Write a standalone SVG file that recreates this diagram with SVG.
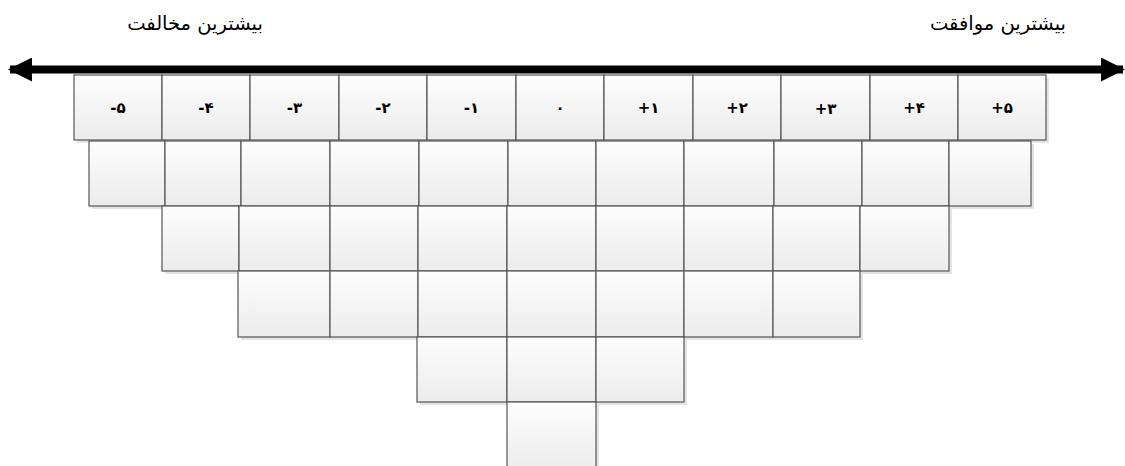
<svg xmlns="http://www.w3.org/2000/svg" width="1125" height="466" viewBox="0 0 1125 466">
<defs>
<linearGradient id="g" x1="0" y1="0" x2="0" y2="1">
<stop offset="0" stop-color="#fdfdfd"/>
<stop offset="1" stop-color="#ececec"/>
</linearGradient>
<marker id="ah" viewBox="0 0 24 24" refX="22" refY="12" markerWidth="24" markerHeight="24" markerUnits="userSpaceOnUse" orient="auto-start-reverse">
<path d="M0,0 L24,12 L0,24 Z" fill="#000"/>
</marker>
<style>
.c{fill:url(#g);stroke:#555;stroke-width:1.2}
.s{fill:#e4e4e4}
.t{font-family:"DejaVu Sans","Noto Sans",sans-serif;font-size:15px;font-weight:bold;fill:#000;text-anchor:middle}
.h{font-family:"DejaVu Sans","Noto Sans",sans-serif;font-size:19.5px;fill:#000;text-anchor:middle}
</style>
</defs>
<rect width="1125" height="466" fill="#fff"/>
<g id="heading-left"><text class="h" x="195" y="30">بیشترین مخالفت</text></g>
<g id="heading-right"><text class="h" x="998" y="30">بیشترین موافقت</text></g>
<g id="connectors">
<line x1="10" y1="69.5" x2="1123" y2="69.5" stroke="#000" stroke-width="8" marker-start="url(#ah)" marker-end="url(#ah)"/>
</g>
<g id="shadows">
<rect class="s" x="77" y="78" width="972" height="65"/>
<rect class="s" x="92" y="144" width="942" height="65"/>
<rect class="s" x="165" y="209" width="787" height="65"/>
<rect class="s" x="241" y="274" width="622" height="66"/>
<rect class="s" x="420" y="340" width="267" height="65"/>
<rect class="s" x="510" y="405" width="89" height="65"/>
</g>
<g id="row-header">
<g id="h-5"><rect class="c" x="74" y="75" width="88" height="65"/><text class="t" x="118" y="113">-۵</text></g>
<g id="h-4"><rect class="c" x="162" y="75" width="88" height="65"/><text class="t" x="206" y="113">-۴</text></g>
<g id="h-3"><rect class="c" x="250" y="75" width="89" height="65"/><text class="t" x="294.5" y="113">-۳</text></g>
<g id="h-2"><rect class="c" x="339" y="75" width="88" height="65"/><text class="t" x="383" y="113">-۲</text></g>
<g id="h-1"><rect class="c" x="427" y="75" width="89" height="65"/><text class="t" x="471.5" y="113">-۱</text></g>
<g id="h0"><rect class="c" x="516" y="75" width="88" height="65"/><text class="t" x="560" y="113">۰</text></g>
<g id="h1"><rect class="c" x="604" y="75" width="89" height="65"/><text class="t" x="648.5" y="113">+۱</text></g>
<g id="h2"><rect class="c" x="693" y="75" width="88" height="65"/><text class="t" x="737" y="113">+۲</text></g>
<g id="h3"><rect class="c" x="781" y="75" width="89" height="65"/><text class="t" x="825.5" y="114">+۳</text></g>
<g id="h4"><rect class="c" x="870" y="75" width="88" height="65"/><text class="t" x="914" y="113">+۴</text></g>
<g id="h5"><rect class="c" x="958" y="75" width="88" height="65"/><text class="t" x="1002" y="113">+۵</text></g>
</g>
<g id="row2">
<rect id="r2c1" class="c" x="89" y="141" width="76" height="65"/>
<rect id="r2c2" class="c" x="165" y="141" width="76" height="65"/>
<rect id="r2c3" class="c" x="241" y="141" width="89" height="65"/>
<rect id="r2c4" class="c" x="330" y="141" width="89" height="65"/>
<rect id="r2c5" class="c" x="419" y="141" width="89" height="65"/>
<rect id="r2c6" class="c" x="508" y="141" width="88" height="65"/>
<rect id="r2c7" class="c" x="596" y="141" width="88" height="65"/>
<rect id="r2c8" class="c" x="684" y="141" width="90" height="65"/>
<rect id="r2c9" class="c" x="774" y="141" width="88" height="65"/>
<rect id="r2c10" class="c" x="862" y="141" width="87" height="65"/>
<rect id="r2c11" class="c" x="949" y="141" width="82" height="65"/>
</g>
<g id="row3">
<rect id="r3c1" class="c" x="162" y="206" width="77" height="65"/>
<rect id="r3c2" class="c" x="239" y="206" width="91" height="65"/>
<rect id="r3c3" class="c" x="330" y="206" width="88" height="65"/>
<rect id="r3c4" class="c" x="418" y="206" width="89" height="65"/>
<rect id="r3c5" class="c" x="507" y="206" width="89" height="65"/>
<rect id="r3c6" class="c" x="596" y="206" width="88" height="65"/>
<rect id="r3c7" class="c" x="684" y="206" width="89" height="65"/>
<rect id="r3c8" class="c" x="773" y="206" width="87" height="65"/>
<rect id="r3c9" class="c" x="860" y="206" width="89" height="65"/>
</g>
<g id="row4">
<rect id="r4c1" class="c" x="238" y="271" width="92" height="66"/>
<rect id="r4c2" class="c" x="330" y="271" width="88" height="66"/>
<rect id="r4c3" class="c" x="418" y="271" width="89" height="66"/>
<rect id="r4c4" class="c" x="507" y="271" width="89" height="66"/>
<rect id="r4c5" class="c" x="596" y="271" width="88" height="66"/>
<rect id="r4c6" class="c" x="684" y="271" width="89" height="66"/>
<rect id="r4c7" class="c" x="773" y="271" width="87" height="66"/>
</g>
<g id="row5">
<rect id="r5c1" class="c" x="417" y="337" width="90" height="65"/>
<rect id="r5c2" class="c" x="507" y="337" width="89" height="65"/>
<rect id="r5c3" class="c" x="596" y="337" width="88" height="65"/>
</g>
<g id="row6">
<rect id="r6c1" class="c" x="507" y="402" width="89" height="70"/>
</g>
</svg>
